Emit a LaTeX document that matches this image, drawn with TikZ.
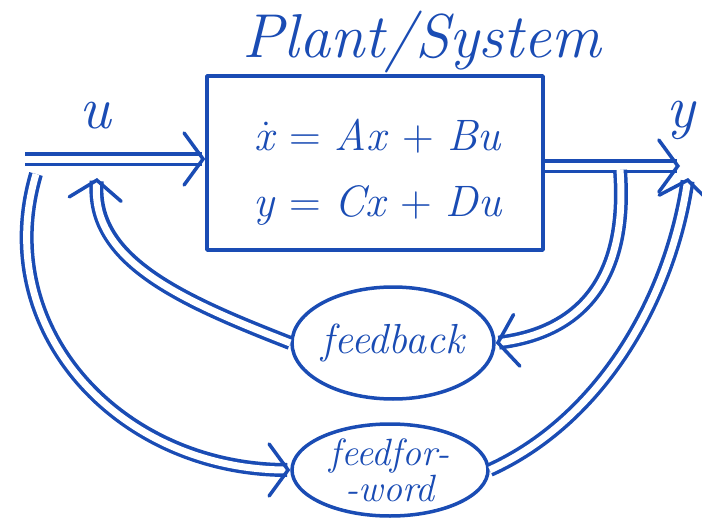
\documentclass[tikz,border=0pt]{standalone}
\usepackage{fontspec}
\usetikzlibrary{arrows.meta,shapes.geometric}
\definecolor{pen}{RGB}{26,76,180}
\newcommand{\vv}[1]{\textit{#1}}
\begin{document}
\begin{tikzpicture}[x=1pt,y=-1pt,
  every node/.style={text=pen},
  pen/.style={draw=pen,line width=3.5pt,line cap=round,line join=round},
  dbl/.style={draw=white,line width=7pt,line cap=butt,
    preaction={draw=pen,line width=14pt,arrows=-,line cap=butt,shorten >=3pt},
    -{Straight Barb[color=pen,length=19pt,width=52pt,line width=3.5pt,line cap=round]}},
  blob/.style={pen,ellipse,inner sep=0pt},
  lbl/.style={font=\fontsize{60}{60}\selectfont\itshape}]
\useasboundingbox (0,0) rectangle (702,527);
\fill[white] (0,0) rectangle (702,527);
% title
\node[font=\fontsize{62}{66}\selectfont\itshape] (title) at (422,42) {Plant/System};
% plant box
\node[pen,minimum width=336pt,minimum height=174pt] (plant) at (375,163) {};
\node[align=center,font=\fontsize{44}{66}\selectfont] (eqs) at (378,172)
  {\.{\vv{x}} = \vv{Ax} + \vv{Bu}\\ \vv{y} = \vv{Cx} + \vv{Du}};
% labels
\node[lbl] (ulab) at (95,116) {u};
\node[lbl] (ylab) at (681,120) {y};
% feedback / feedforward blocks
\node[blob,minimum width=202pt,minimum height=112pt,
      font=\fontsize{42}{44}\selectfont\itshape] (fb) at (393,343) {feedback};
\node[blob,minimum width=196pt,minimum height=92pt,align=center,
      font=\fontsize{38}{36}\selectfont\itshape] (ff) at (390,470) {feedfor-\\-word};
% free ends
\coordinate (uin) at (25,159);
\coordinate (yout) at (680,166);
\coordinate (ybr) at (620,170);
\coordinate (ubr) at (97,178);
\coordinate (uff) at (36,174);
\coordinate (ytip) at (688,178);
% connectors
\draw[dbl] (uin) -- (plant.west |- uin);
\draw[dbl] (plant.east |- yout) -- (yout);
\draw[dbl] (ybr) .. controls (630,300) and (560,335) .. (fb.east);
\draw[dbl] (fb.west) .. controls (180,300) and (90,260) .. (ubr);
\draw[dbl] (uff) .. controls (-10,330) and (120,470) .. (ff.west);
\draw[dbl] (ff.east) .. controls (600,420) and (670,300) .. (ytip);
\end{tikzpicture}
\end{document}
